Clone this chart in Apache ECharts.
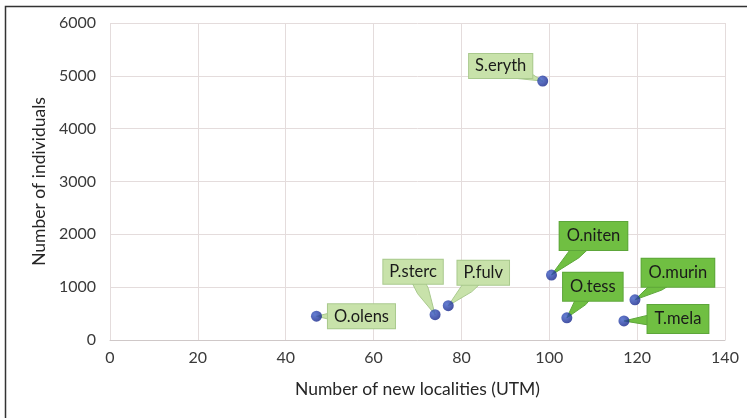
<!DOCTYPE html>
<html>
<head>
<meta charset="utf-8">
<script src="https://cdn.jsdelivr.net/npm/echarts@6/dist/echarts.min.js"></script>
<style>
  html, body { margin: 0; padding: 0; background: #fff; }
  #chart { width: 747px; height: 418px; }
</style>
</head>
<body>
<div id="chart"></div>
<script>
// species short names
var species = ['O.olens', 'P.sterc', 'P.fulv', 'S.eryth', 'O.niten', 'O.tess', 'O.murin', 'T.mela'];
// number of new localities (UTM)
var localities = [47, 74, 77, 98.5, 100.5, 104, 119.5, 117];
// number of individuals
var individuals = [450, 480, 650, 4900, 1230, 420, 760, 360];
// pale label or bright label
var bright = [false, false, false, false, true, true, true, true];

// callout box centre shift from the point, px
var labelShift = [[45, 0], [-22, -43], [35, -33], [-42, -15], [42, -39], [26, -31], [43, -27], [54, -2]];

var font = 'Lato, "Open Sans", sans-serif';

var chart = echarts.init(document.getElementById('chart'));

var pts = [];
for (var i = 0; i < species.length; i++) {
	pts.push([localities[i], individuals[i]]);
}

// callout = wedge from the point + box with the name
function drawCallout(params, api) {
	var i = params.dataIndex;
	var p = api.coord([api.value(0), api.value(1)]);
	var s = labelShift[i];
	var cx = p[0] + s[0], cy = p[1] + s[1];
	var fill = bright[i] ? '#70bf42' : '#c8e2aa';
	var edge = bright[i] ? '#5da63a' : '#a9c98d';
	// half width of the wedge base, across the direction
	var len = Math.sqrt(s[0] * s[0] + s[1] * s[1]);
	var nx = -s[1] / len * 6, ny = s[0] / len * 6;
	// base sits a bit towards the point from the box centre
	var bx = p[0] + s[0] * 0.55, by = p[1] + s[1] * 0.55;
	return {
		type: 'group',
		children: [{
			type: 'polygon',
			shape: { points: [[p[0], p[1]], [bx + nx, by + ny], [cx + nx, cy + ny], [cx - nx, cy - ny], [bx - nx, by - ny]] },
			style: { fill: fill, stroke: edge, lineWidth: 1 }
		}, {
			type: 'text',
			x: cx, y: cy,
			style: {
				text: species[i],
				font: '16.5px ' + font,
				fill: '#1a1a1a',
				align: 'center',
				verticalAlign: 'middle',
				backgroundColor: fill,
				borderColor: edge,
				borderWidth: 1,
				padding: bright[i] ? [6, 7, 5, 7] : [4, 6, 3, 6]
			}
		}]
	};
}

var option = {
	animation: false,
	grid: { left: 110, right: 22, top: 23, bottom: 78 },
	graphic: [{
		type: 'polyline',
		shape: { points: [[5.5, 418], [5.5, 6.5], [747, 6.5]] },
		style: { stroke: '#333', lineWidth: 1.5, fill: null }
	}],
	xAxis: {
		type: 'value', min: 0, max: 140, interval: 20,
		name: 'Number of new localities (UTM)',
		nameLocation: 'middle', nameGap: 40,
		nameTextStyle: { fontFamily: font, fontSize: 17.5, color: '#262626' },
		axisLine: { show: true, lineStyle: { color: '#cfc8c8' } },
		axisTick: { show: false },
		axisLabel: { fontFamily: font, fontSize: 16, color: '#3a3a3a', margin: 10 },
		splitLine: { lineStyle: { color: '#e4dcdc' } }
	},
	yAxis: {
		type: 'value', min: 0, max: 6000, interval: 1000,
		name: 'Number of individuals',
		nameLocation: 'middle', nameGap: 55,
		nameTextStyle: { fontFamily: font, fontSize: 17.5, color: '#262626' },
		axisLine: { show: false },
		axisTick: { show: false },
		axisLabel: {
			fontFamily: font, fontSize: 16, color: '#3a3a3a', margin: 14,
			formatter: function (v) { return String(v); }
		},
		splitLine: { lineStyle: { color: '#e4dcdc' } }
	},
	series: [{
		type: 'custom',
		renderItem: drawCallout,
		data: pts,
		z: 2
	}, {
		type: 'scatter',
		symbolSize: 11,
		data: pts,
		z: 3,
		itemStyle: {
			color: new echarts.graphic.RadialGradient(0.35, 0.35, 0.7, [
				{ offset: 0, color: '#3f5fc8' },
				{ offset: 1, color: '#15258a' }
			])
		}
	}]
};

chart.setOption(option);
</script>
</body>
</html>
